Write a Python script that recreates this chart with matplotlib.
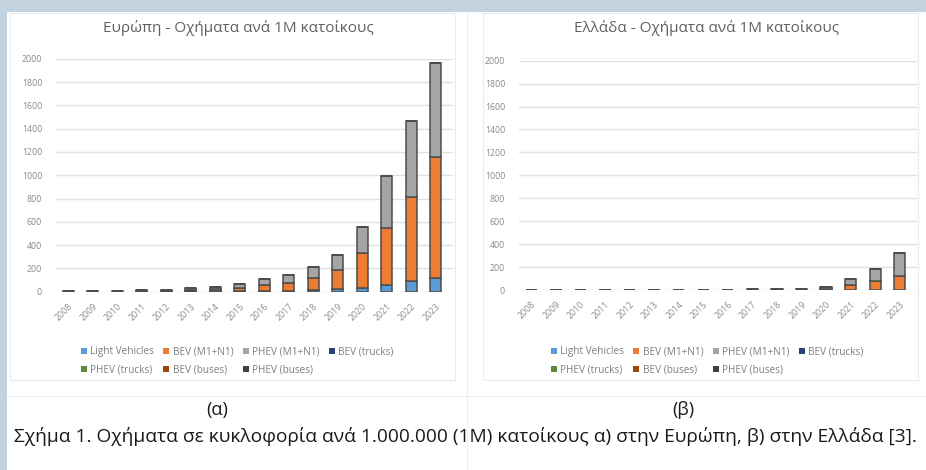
import matplotlib
matplotlib.use("Agg")
import matplotlib.pyplot as plt
from matplotlib.patches import Rectangle
from matplotlib.lines import Line2D
import numpy as np

plt.rcParams['font.family'] = ['Open Sans', 'Noto Sans', 'DejaVu Sans']

years = [str(y) for y in range(2008, 2024)]
series_names = ["Light Vehicles", "BEV (M1+N1)", "PHEV (M1+N1)", "BEV (trucks)",
                "PHEV (trucks)", "BEV (buses)", "PHEV (buses)"]
series_colors = ["#5B9BD5", "#ED7D31", "#A5A5A5", "#264478",
                 "#5B8C3A", "#9E480E", "#404040"]

# Europe - vehicles per 1M inhabitants
eu_light = [1, 1, 1, 1, 1, 2, 3, 4, 5, 8, 14, 20, 29, 57, 91, 114]
eu_bev = [2, 2, 3, 5, 8, 13, 20, 26, 55, 63, 100, 166, 300, 494, 723, 1043]
eu_phev = [5, 6, 6, 6, 6, 13, 20, 35, 46, 72, 100, 128, 228, 440, 651, 805]
eu_bev_trucks = [0, 0, 0, 0, 0, 0, 0, 0, 0, 0, 0, 0, 0, 0, 0, 0]
eu_phev_trucks = [0, 0, 0, 0, 0, 0, 0, 0, 0, 0, 0, 0, 0, 0, 0, 0]
eu_bev_buses = [0, 0, 0, 0, 0, 0, 0, 0, 0, 0, 0, 0, 0, 0, 0, 0]
eu_phev_buses = [0, 0, 0, 0, 0, 0, 0, 0, 0, 0, 0, 0, 0, 0, 0, 0]

# Greece - vehicles per 1M inhabitants
gr_light = [0, 0, 0, 0, 0, 0, 0, 0, 0, 0, 0, 1, 1, 2, 3, 4]
gr_bev = [1, 1, 1, 1, 1, 1, 1, 1, 1, 1, 2, 3, 8, 40, 72, 121]
gr_phev = [3, 3, 3, 3, 3, 3, 3, 3, 3, 4, 4, 7, 19, 58, 107, 200]
gr_bev_trucks = [0, 0, 0, 0, 0, 0, 0, 0, 0, 0, 0, 0, 0, 0, 0, 0]
gr_phev_trucks = [0, 0, 0, 0, 0, 0, 0, 0, 0, 0, 0, 0, 0, 0, 0, 0]
gr_bev_buses = [0, 0, 0, 0, 0, 0, 0, 0, 0, 0, 0, 0, 0, 0, 0, 0]
gr_phev_buses = [0, 0, 0, 0, 0, 0, 0, 0, 0, 0, 0, 0, 0, 0, 0, 0]

yticks = [0, 200, 400, 600, 800, 1000, 1200, 1400, 1600, 1800, 2000]

eu_title = "Ευρώπη - Οχήματα ανά 1Μ κατοίκους"
gr_title = "Ελλάδα - Οχήματα ανά 1Μ κατοίκους"
label_a = "(α)"
label_b = "(β)"
caption = ("Σχήμα 1. Οχήματα σε κυκλοφορία ανά 1.000.000 (1Μ) κατοίκους "
           "α) στην Ευρώπη, β) στην Ελλάδα [3].")

W, H = 926, 470
fig = plt.figure(figsize=(W / 100, H / 100), dpi=100, facecolor="white")

def fx(px):
    return px / W

def fy(py):
    return 1 - py / H

# page decorations
bg = "#c3d4e0"
fig.patches.append(Rectangle((0, fy(12)), 1, 12 / H, transform=fig.transFigure,
                             facecolor=bg, edgecolor="none", zorder=0))
fig.patches.append(Rectangle((0, 0), fx(7), 1, transform=fig.transFigure,
                             facecolor=bg, edgecolor="none", zorder=0))
for (x0, y0, x1, y1) in [(10, 13, 455, 380), (483, 13, 918, 380)]:
    fig.patches.append(Rectangle((fx(x0), fy(y1)), fx(x1 - x0), (y1 - y0) / H,
                                 transform=fig.transFigure, facecolor="none",
                                 edgecolor="#ebebeb", lw=0.8, zorder=0))
fig.lines.append(Line2D([fx(467), fx(467)], [0, fy(12)], transform=fig.transFigure,
                        color="#efefef", lw=0.8))
fig.lines.append(Line2D([fx(7), 1], [fy(396), fy(396)], transform=fig.transFigure,
                        color="#efefef", lw=0.8))


def draw(ax, data):
    x = np.arange(len(years))
    bottom = np.zeros(len(years))
    for vals, name, col in zip(data, series_names, series_colors):
        v = np.array(vals, dtype=float)
        ax.bar(x, v, 0.46, bottom=bottom, color=col, label=name,
               edgecolor="#4d4d4d", linewidth=1.1, zorder=3)
        bottom += v
    ax.set_ylim(0, 2000)
    ax.set_xlim(-0.5, len(years) - 0.3)
    ax.set_yticks(yticks)
    ax.set_yticklabels([str(t) for t in yticks])
    ax.set_xticks(x)
    ax.set_xticklabels(years, rotation=45, ha="right", rotation_mode="anchor")
    ax.tick_params(axis="both", length=0, labelsize=6.3, colors="#8a8a8a")
    ax.tick_params(axis="y", pad=10)
    ax.tick_params(axis="x", pad=7)
    for s in ax.spines.values():
        s.set_visible(False)
    ax.grid(axis="y", color="#e0e0e0", lw=1.0, zorder=0)
    ax.set_axisbelow(True)
    ax.set_facecolor("none")


ax1 = fig.add_axes([fx(56), fy(291.7), fx(397), (291.7 - 58.7) / H])
draw(ax1, [eu_light, eu_bev, eu_phev, eu_bev_trucks, eu_phev_trucks,
           eu_bev_buses, eu_phev_buses])
ax2 = fig.add_axes([fx(519), fy(290), fx(398), (290 - 60.7) / H])
draw(ax2, [gr_light, gr_bev, gr_phev, gr_bev_trucks, gr_phev_trucks,
           gr_bev_buses, gr_phev_buses])

order = [0, 4, 1, 5, 2, 6, 3]
for ax, lx in [(ax1, 72), (ax2, 542)]:
    handles, labels = ax.get_legend_handles_labels()
    leg = fig.legend([handles[i] for i in order], [labels[i] for i in order],
                     loc="center left", bbox_to_anchor=(fx(lx), fy(361)),
                     ncol=4, frameon=False, fontsize=7.2, handlelength=0.6,
                     handleheight=0.6, handletextpad=0.35, columnspacing=0.9,
                     labelspacing=0.75)
    for t in leg.get_texts():
        t.set_color("#808080")
    for h in leg.legend_handles:
        h.set_edgecolor("none")

fig.text(fx(238), fy(28), eu_title, ha="center", va="center", fontsize=11,
         color="#606060")
fig.text(fx(707), fy(28), gr_title, ha="center", va="center", fontsize=11,
         color="#606060")

fig.text(fx(217), fy(410), label_a, ha="center", va="center", fontsize=13,
         color="#1a1a1a")
fig.text(fx(683), fy(410), label_b, ha="center", va="center", fontsize=13,
         color="#1a1a1a")
fig.text(fx(465), fy(437), caption, ha="center", va="center", fontsize=13.8,
         color="#1a1a1a")

fig.savefig("out.png", dpi=100, facecolor="white")
